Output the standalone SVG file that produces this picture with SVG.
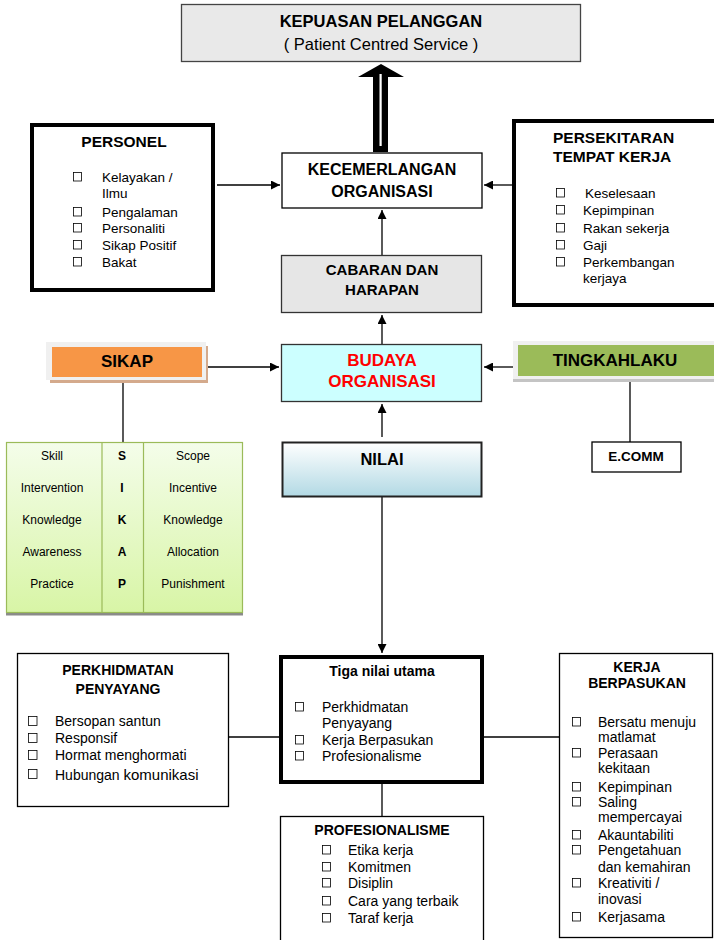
<svg xmlns="http://www.w3.org/2000/svg" width="714" height="940" viewBox="0 0 714 940">
<defs>
<style>
text{font-family:"Liberation Sans",Arial,sans-serif;fill:#000}
.b{font-weight:bold}
.c{text-anchor:middle}
.it{font-size:13.5px}
.it14{font-size:14px}
.tb{font-size:12px;text-anchor:middle}
.cb{fill:none;stroke:#000;stroke-width:0.8}
.ln{stroke:#000;stroke-width:1.3;fill:none}
.thin{fill:#fff;stroke:#000;stroke-width:1.3}
.thick{fill:#fff;stroke:#000;stroke-width:4}
</style>
<marker id="ah" viewBox="0 0 10 10" refX="10" refY="5" markerWidth="9" markerHeight="9" markerUnits="userSpaceOnUse" orient="auto">
<path d="M0,0 L10,5 L0,10 z" fill="#000"/>
</marker>
<linearGradient id="gNilai" x1="0" y1="0" x2="0" y2="1">
<stop offset="0" stop-color="#ffffff"/>
<stop offset="1" stop-color="#b2d9e4"/>
</linearGradient>
<linearGradient id="gTab" x1="0" y1="0" x2="0" y2="1">
<stop offset="0" stop-color="#f4fdea"/>
<stop offset="1" stop-color="#d8f5a6"/>
</linearGradient>
</defs>

<g id="connectors">
<path class="ln" d="M217,185 H280" marker-end="url(#ah)"/>
<path class="ln" d="M513,185 H484" marker-end="url(#ah)"/>
<path class="ln" d="M382,255 V210" marker-end="url(#ah)"/>
<path class="ln" d="M382,344 V315" marker-end="url(#ah)"/>
<path class="ln" d="M382,437 V404" marker-end="url(#ah)"/>
<path class="ln" d="M207,367 H279" marker-end="url(#ah)"/>
<path class="ln" d="M513,367 H484" marker-end="url(#ah)"/>
<path class="ln" d="M382,497 V653" marker-end="url(#ah)"/>
<path class="ln" d="M123,377 V442"/>
<path class="ln" d="M630,378 V442"/>
<path class="ln" d="M229,737 H279"/>
<path class="ln" d="M484,737 H559"/>
<path class="ln" d="M382,783 V816"/>
<path d="M373,152 V77 H358 L381,64 L404,77 H388 V152 Z" fill="#000"/>
<rect x="379.5" y="74" width="2.2" height="72" fill="#fff"/>
</g>

<g id="kepuasan">
<rect x="181.5" y="4.5" width="399" height="57" fill="#e9e9e9" stroke="#444" stroke-width="1.3"/>
<text class="b c" x="381" y="27" font-size="16.5">KEPUASAN PELANGGAN</text>
<text class="c" x="381" y="50" font-size="16.5">( Patient Centred Service )</text>
</g>

<g id="kecemerlangan">
<rect class="thin" x="282" y="153" width="200" height="55"/>
<text class="b c" x="382" y="175" font-size="16">KECEMERLANGAN</text>
<text class="b c" x="382" y="197" font-size="16">ORGANISASI</text>
</g>

<g id="personel">
<rect class="thick" x="32" y="125" width="181" height="165"/>
<text class="b c" x="124" y="147" font-size="15.5">PERSONEL</text>
<rect class="cb" x="73.5" y="172.5" width="8" height="8.5"/>
<text class="it" x="102" y="182">Kelayakan /</text>
<text class="it" x="102" y="198">Ilmu</text>
<rect class="cb" x="73.5" y="207.5" width="8" height="8.5"/>
<text class="it" x="102" y="217">Pengalaman</text>
<rect class="cb" x="73.5" y="223.5" width="8" height="8.5"/>
<text class="it" x="102" y="233">Personaliti</text>
<rect class="cb" x="73.5" y="240.5" width="8" height="8.5"/>
<text class="it" x="102" y="250">Sikap Positif</text>
<rect class="cb" x="73.5" y="257.5" width="8" height="8.5"/>
<text class="it" x="102" y="267">Bakat</text>
</g>

<g id="persekitaran">
<rect class="thick" x="514" y="121" width="210" height="184"/>
<text class="b" x="553" y="143" font-size="15.5">PERSEKITARAN</text>
<text class="b" x="553" y="162" font-size="15.5">TEMPAT KERJA</text>
<rect class="cb" x="556.5" y="188.5" width="8" height="8.5"/>
<text class="it" x="585" y="198">Keselesaan</text>
<rect class="cb" x="556.5" y="205.5" width="8" height="8.5"/>
<text class="it" x="583" y="215">Kepimpinan</text>
<rect class="cb" x="556.5" y="223.5" width="8" height="8.5"/>
<text class="it" x="583" y="233">Rakan sekerja</text>
<rect class="cb" x="556.5" y="240.5" width="8" height="8.5"/>
<text class="it" x="583" y="250">Gaji</text>
<rect class="cb" x="556.5" y="257.5" width="8" height="8.5"/>
<text class="it" x="583" y="267">Perkembangan</text>
<text class="it" x="583" y="283">kerjaya</text>
</g>

<g id="cabaran">
<rect x="281.5" y="255.5" width="200" height="57" fill="#e6e6e6" stroke="#333" stroke-width="1.3"/>
<text class="b c" x="382" y="275" font-size="15">CABARAN DAN</text>
<text class="b c" x="382" y="295" font-size="15">HARAPAN</text>
</g>

<g id="budaya">
<rect x="281.5" y="344.5" width="200" height="57" fill="#ccffff" stroke="#333" stroke-width="1.3"/>
<text class="b c" x="382" y="366" font-size="17" style="fill:#ff0000">BUDAYA</text>
<text class="b c" x="382" y="387" font-size="17" style="fill:#ff0000">ORGANISASI</text>
</g>

<g id="nilai">
<rect x="282.5" y="442.5" width="199" height="54" fill="url(#gNilai)" stroke="#222" stroke-width="2"/>
<text class="b c" x="382" y="465" font-size="16.5">NILAI</text>
</g>

<g id="sikap">
<rect x="50" y="346" width="158" height="37" fill="#d4aa8c"/>
<rect x="46" y="342" width="160" height="38" fill="#f0f0f0"/>
<rect x="52" y="347" width="150" height="30" fill="#f79646"/>
<text class="b c" x="127" y="367" font-size="17">SIKAP</text>
</g>

<g id="sikap-table">
<rect x="6" y="613" width="237" height="2.5" fill="#8a8a8a"/>
<rect x="6.5" y="442.5" width="236" height="170" fill="url(#gTab)" stroke="#9bbb59" stroke-width="1.2"/>
<line x1="102" y1="442.5" x2="102" y2="612.5" stroke="#9bbb59" stroke-width="1.2"/>
<line x1="143.5" y1="442.5" x2="143.5" y2="612.5" stroke="#9bbb59" stroke-width="1.2"/>
<text class="tb" x="52" y="460">Skill</text>
<text class="tb" x="52" y="492">Intervention</text>
<text class="tb" x="52" y="524">Knowledge</text>
<text class="tb" x="52" y="556">Awareness</text>
<text class="tb" x="52" y="588">Practice</text>
<text class="tb b" x="122" y="460">S</text>
<text class="tb b" x="122" y="492">I</text>
<text class="tb b" x="122" y="524">K</text>
<text class="tb b" x="122" y="556">A</text>
<text class="tb b" x="122" y="588">P</text>
<text class="tb" x="193" y="460">Scope</text>
<text class="tb" x="193" y="492">Incentive</text>
<text class="tb" x="193" y="524">Knowledge</text>
<text class="tb" x="193" y="556">Allocation</text>
<text class="tb" x="193" y="588">Punishment</text>
</g>

<g id="tingkahlaku">
<rect x="513" y="341" width="210" height="39" fill="#f0f0f0"/>
<rect x="513" y="379" width="210" height="3" fill="#c4c4c4"/>
<rect x="518" y="345" width="196" height="31" fill="#9bbb59"/>
<text class="b c" x="615" y="366" font-size="17">TINGKAHLAKU</text>
</g>

<g id="ecomm">
<rect class="thin" x="592" y="442" width="89" height="30"/>
<text class="b c" x="636" y="461" font-size="13.5">E.COMM</text>
</g>

<g id="perkhidmatan">
<rect class="thin" x="17.5" y="653.5" width="211" height="153"/>
<text class="b c" x="118" y="675" font-size="14">PERKHIDMATAN</text>
<text class="b c" x="118" y="694" font-size="14">PENYAYANG</text>
<rect class="cb" x="28.5" y="716.5" width="8.5" height="9"/>
<text class="it14" x="55" y="726">Bersopan santun</text>
<rect class="cb" x="28.5" y="733.5" width="8.5" height="9"/>
<text class="it14" x="55" y="743">Responsif</text>
<rect class="cb" x="28.5" y="750.5" width="8.5" height="9"/>
<text class="it14" x="55" y="760">Hormat menghormati</text>
<rect class="cb" x="28.5" y="769.5" width="8.5" height="9"/>
<text class="it14" x="55" y="780">Hubungan <tspan font-size="15">komunikasi</tspan></text>
</g>

<g id="tiga">
<rect class="thick" x="281" y="657" width="201" height="125"/>
<text class="b c" x="382" y="676" font-size="14">Tiga nilai utama</text>
<rect class="cb" x="295.5" y="702.5" width="8" height="8.5"/>
<text class="it14" x="322" y="712">Perkhidmatan</text>
<text class="it14" x="322" y="728">Penyayang</text>
<rect class="cb" x="295.5" y="735.5" width="8" height="8.5"/>
<text class="it14" x="322" y="745">Kerja Berpasukan</text>
<rect class="cb" x="295.5" y="751.5" width="8" height="8.5"/>
<text class="it14" x="322" y="761">Profesionalisme</text>
</g>

<g id="profesionalisme">
<rect class="thin" x="280.5" y="816.5" width="203" height="130"/>
<text class="b c" x="382" y="835" font-size="14">PROFESIONALISME</text>
<rect class="cb" x="322.5" y="845.5" width="8" height="8.5"/>
<text class="it14" x="348" y="855">Etika kerja</text>
<rect class="cb" x="322.5" y="862.5" width="8" height="8.5"/>
<text class="it14" x="348" y="872">Komitmen</text>
<rect class="cb" x="322.5" y="878.5" width="8" height="8.5"/>
<text class="it14" x="348" y="888">Disiplin</text>
<rect class="cb" x="322.5" y="896.5" width="8" height="8.5"/>
<text class="it14" x="348" y="906">Cara yang terbaik</text>
<rect class="cb" x="322.5" y="913.5" width="8" height="8.5"/>
<text class="it14" x="348" y="923">Taraf kerja</text>
</g>

<g id="kerja-berpasukan">
<rect class="thin" x="559.5" y="653.5" width="153" height="284"/>
<text class="b c" x="637" y="672" font-size="14">KERJA</text>
<text class="b c" x="637" y="688" font-size="14">BERPASUKAN</text>
<rect class="cb" x="572.5" y="717.5" width="8" height="8.5"/>
<text class="it14" x="598" y="727">Bersatu menuju</text>
<text class="it14" x="598" y="742">matlamat</text>
<rect class="cb" x="572.5" y="748.5" width="8" height="8.5"/>
<text class="it14" x="598" y="758">Perasaan</text>
<text class="it14" x="598" y="773">kekitaan</text>
<rect class="cb" x="572.5" y="782.5" width="8" height="8.5"/>
<text class="it14" x="598" y="792">Kepimpinan</text>
<rect class="cb" x="572.5" y="797.5" width="8" height="8.5"/>
<text class="it14" x="598" y="807">Saling</text>
<text class="it14" x="598" y="822">mempercayai</text>
<rect class="cb" x="572.5" y="830.5" width="8" height="8.5"/>
<text class="it14" x="598" y="840">Akauntabiliti</text>
<rect class="cb" x="572.5" y="845.5" width="8" height="8.5"/>
<text class="it14" x="598" y="855">Pengetahuan</text>
<text class="it14" x="598" y="872">dan kemahiran</text>
<rect class="cb" x="572.5" y="878.5" width="8" height="8.5"/>
<text class="it14" x="598" y="888">Kreativiti /</text>
<text class="it14" x="598" y="904">inovasi</text>
<rect class="cb" x="572.5" y="912.5" width="8" height="8.5"/>
<text class="it14" x="598" y="922">Kerjasama</text>
</g>
</svg>
